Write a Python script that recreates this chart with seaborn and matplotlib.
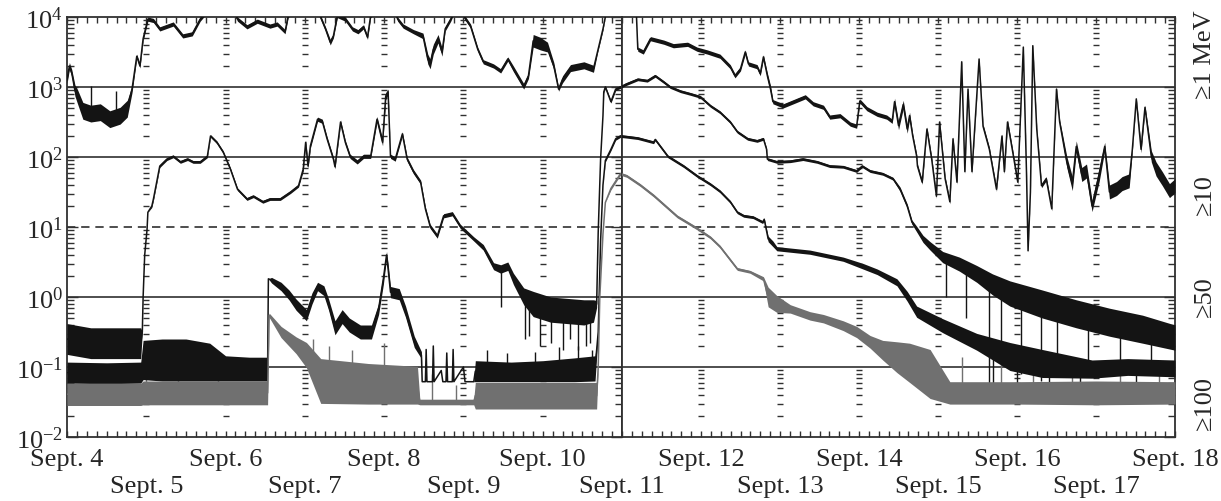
import numpy as np
import matplotlib
matplotlib.use("Agg")
import matplotlib.pyplot as plt
import seaborn as sns
from matplotlib.ticker import LogLocator, MultipleLocator, NullFormatter, FixedLocator

sns.set_theme(style="ticks")
plt.rcParams['font.family'] = ['Liberation Serif', 'DejaVu Serif']
plt.rcParams['mathtext.fontset'] = 'stix'
plt.rcParams['font.size'] = 19

# (day of September, log10 flux, noise half-width in log10)
p1mev = [(4.00, 3.10, .05), (4.03, 3.30, .05), (4.06, 3.20, .05), (4.10, 2.95, .08), (4.13, 2.87, .10),
         (4.20, 2.66, .12), (4.30, 2.62, .12), (4.42, 2.64, .12), (4.54, 2.54, .12), (4.67, 2.59, .12),
         (4.76, 2.69, .12), (4.82, 2.97, .05), (4.88, 3.44, .03), (4.92, 3.30, .03), (4.96, 3.69, .03),
         (5.02, 3.97, .03), (5.09, 3.95, .03), (5.17, 3.83, .03), (5.34, 3.90, .03), (5.46, 3.73, .03),
         (5.58, 3.76, .03), (5.68, 3.97, .03), (5.74, 4.05, .03), (5.85, 4.20, 0), (6.05, 4.20, 0),
         (6.15, 3.97, .03), (6.27, 3.86, .03), (6.40, 3.94, .03), (6.56, 3.87, .03), (6.65, 3.90, .03),
         (6.75, 3.79, .03), (6.79, 4.02, .03), (6.95, 4.20, 0), (7.10, 4.20, 0), (7.19, 4.02, .03),
         (7.26, 3.83, .03), (7.32, 3.64, .04), (7.36, 3.73, .03), (7.41, 4.02, .03), (7.51, 3.97, .03),
         (7.60, 3.83, .03), (7.67, 3.79, .03), (7.74, 3.86, .03), (7.79, 3.71, .03), (7.83, 4.02, .03),
         (7.95, 4.20, 0), (8.10, 4.20, 0), (8.17, 3.97, .03), (8.24, 3.87, .03), (8.37, 3.79, .03),
         (8.49, 3.73, .04), (8.55, 3.40, .07), (8.58, 3.33, .07), (8.62, 3.54, .07), (8.68, 3.69, .06),
         (8.73, 3.50, .06), (8.77, 3.83, .03), (8.84, 3.97, .03), (8.90, 4.10, 0), (8.95, 4.10, 0),
         (9.03, 3.97, .03), (9.09, 3.87, .03), (9.18, 3.54, .03), (9.25, 3.36, .03), (9.38, 3.30, .03),
         (9.47, 3.23, .03), (9.56, 3.40, .03), (9.63, 3.26, .04), (9.76, 3.01, .04), (9.82, 3.16, .04),
         (9.88, 3.66, .09), (9.97, 3.62, .09), (10.06, 3.57, .07), (10.14, 3.30, .05), (10.20, 2.97, .03),
         (10.25, 3.11, .05), (10.35, 3.27, .05), (10.52, 3.31, .05), (10.64, 3.26, .05), (10.69, 3.50, .02),
         (10.76, 3.83, .02), (10.79, 4.00, 0), (10.85, 4.20, 0), (11.10, 4.20, 0), (11.18, 4.10, 0),
         (11.20, 3.54, .03), (11.27, 3.50, .03), (11.36, 3.69, .03), (11.53, 3.64, .03), (11.65, 3.59, .03),
         (11.83, 3.61, .03), (11.95, 3.54, .03), (12.08, 3.50, .03), (12.24, 3.44, .03), (12.37, 3.29, .03),
         (12.43, 3.16, .03), (12.50, 3.26, .03), (12.56, 3.50, .03), (12.60, 3.33, .03), (12.71, 3.29, .03),
         (12.75, 3.19, .03), (12.79, 3.43, .03), (12.84, 3.16, .04), (12.88, 2.97, .05), (12.91, 2.79, .03),
         (13.04, 2.73, .03), (13.17, 2.79, .03), (13.32, 2.86, .03), (13.42, 2.76, .03), (13.55, 2.71, .03),
         (13.63, 2.57, .03), (13.76, 2.59, .03), (13.89, 2.47, .03), (13.97, 2.44, .03), (14.01, 2.80, .03),
         (14.10, 2.69, .03), (14.23, 2.61, .03), (14.35, 2.57, .03), (14.42, 2.51, .03), (14.45, 2.79, .05),
         (14.50, 2.45, .06), (14.56, 2.75, .06), (14.61, 2.40, .06), (14.64, 2.59, .05), (14.68, 2.30, .03),
         (14.73, 2.01, .03), (14.74, 1.87, .03), (14.80, 1.64, .03), (14.86, 2.40, .03), (14.92, 1.97, .03),
         (14.98, 1.44, .03), (15.02, 2.50, .03), (15.09, 1.69, .03), (15.15, 1.36, .03), (15.19, 2.26, .03),
         (15.24, 1.64, .03), (15.30, 3.36, .02), (15.34, 1.79, .03), (15.38, 2.97, .02), (15.43, 1.79, .03),
         (15.52, 3.40, .02), (15.57, 2.44, .03), (15.65, 2.11, .03), (15.74, 1.54, .03), (15.81, 2.30, .03),
         (15.84, 1.79, .03), (15.88, 2.50, .03), (15.94, 2.11, .03), (16.01, 1.64, .03), (16.08, 3.57, .02),
         (16.12, 1.79, .03), (16.14, 0.66, .02), (16.17, 1.50, .03), (16.20, 3.59, .02), (16.25, 2.40, .03),
         (16.31, 1.59, .03), (16.37, 1.69, .03), (16.44, 1.26, .03), (16.50, 2.97, .02), (16.54, 2.50, .03),
         (16.63, 1.93, .08), (16.70, 1.62, .10), (16.75, 2.15, .08), (16.82, 1.75, .10), (16.88, 1.80, .10),
         (16.95, 1.30, .08), (17.04, 1.75, .10), (17.11, 2.15, .06), (17.17, 1.50, .10), (17.26, 1.55, .10),
         (17.33, 1.62, .10), (17.42, 1.66, .10), (17.46, 2.11, .03), (17.51, 2.83, .02), (17.57, 2.11, .05),
         (17.62, 2.71, .03), (17.70, 2.01, .08), (17.76, 1.83, .10), (17.84, 1.69, .10), (17.93, 1.52, .10),
         (18.00, 1.59, .10)]

p10mev = [(4.00, -0.60, .22), (4.30, -0.66, .22), (4.60, -0.66, .22), (4.93, -0.66, .22), (4.95, -0.50, 0),
          (4.96, 0.00, 0), (4.98, 0.60, 0), (5.01, 0.97, 0), (5.02, 1.21, 0), (5.07, 1.30, .02),
          (5.09, 1.40, .02), (5.14, 1.69, .02), (5.17, 1.87, .02), (5.26, 1.97, .02), (5.34, 2.01, .02),
          (5.43, 1.93, .02), (5.52, 1.97, .02), (5.59, 1.93, .02), (5.68, 1.93, .02), (5.77, 2.01, .02),
          (5.81, 2.30, .02), (5.89, 2.21, .02), (5.97, 2.07, .02), (6.06, 1.83, .02), (6.15, 1.54, .02),
          (6.27, 1.40, .02), (6.35, 1.44, .02), (6.47, 1.36, .02), (6.56, 1.40, .02), (6.69, 1.40, .02),
          (6.82, 1.50, .02), (6.92, 1.59, .02), (6.98, 1.83, .03), (7.01, 2.21, .03), (7.04, 1.87, .03),
          (7.07, 2.16, .03), (7.16, 2.54, .03), (7.22, 2.51, .03), (7.28, 2.26, .03), (7.36, 1.97, .03),
          (7.38, 1.86, .03), (7.45, 2.50, .03), (7.51, 2.21, .03), (7.57, 2.01, .03), (7.66, 1.93, .03),
          (7.74, 2.01, .03), (7.83, 2.01, .03), (7.91, 2.54, .04), (7.98, 2.21, .05), (8.02, 2.87, .05),
          (8.05, 2.93, .04), (8.08, 2.01, .03), (8.14, 1.97, .03), (8.23, 2.33, .03), (8.29, 1.97, .03),
          (8.37, 1.79, .03), (8.46, 1.64, .03), (8.52, 1.26, .03), (8.58, 1.01, .03), (8.67, 0.87, .03),
          (8.75, 1.16, .03), (8.86, 1.19, .03), (8.96, 1.01, .03), (9.13, 0.83, .03), (9.25, 0.71, .04),
          (9.38, 0.44, .05), (9.47, 0.40, .06), (9.56, 0.44, .06), (9.63, 0.26, .08), (9.76, 0.01, .12),
          (9.88, -0.10, .18), (10.10, -0.18, .18), (10.31, -0.20, .18), (10.52, -0.22, .18), (10.64, -0.20, .16),
          (10.68, -0.10, .05), (10.70, 0.93, 0), (10.73, 1.97, 0), (10.76, 2.59, 0), (10.77, 2.93, .02),
          (10.79, 3.00, .02), (10.86, 2.79, .02), (10.92, 2.97, .02), (10.98, 3.00, .02), (11.05, 3.04, .02),
          (11.20, 3.11, .02), (11.32, 3.09, .02), (11.42, 3.16, .02), (11.53, 3.07, .02), (11.61, 3.00, .02),
          (11.74, 2.94, .02), (11.87, 2.90, .02), (11.99, 2.86, .02), (12.12, 2.73, .02), (12.24, 2.64, .02),
          (12.37, 2.50, .02), (12.46, 2.36, .02), (12.59, 2.26, .02), (12.71, 2.23, .02), (12.79, 2.26, .02),
          (12.83, 2.11, .02), (12.84, 1.97, .02), (12.96, 1.93, .02), (13.13, 1.94, .02), (13.29, 1.97, .02),
          (13.47, 1.93, .02), (13.63, 1.87, .02), (13.80, 1.86, .02), (13.97, 1.80, .02), (14.04, 1.87, .02),
          (14.14, 1.80, .02), (14.30, 1.76, .02), (14.43, 1.69, .02), (14.52, 1.54, .03), (14.61, 1.30, .03),
          (14.67, 1.07, .03), (14.73, 0.97, .04), (14.81, 0.83, .05), (14.90, 0.73, .06), (15.06, 0.57, .08),
          (15.27, 0.47, .10), (15.49, 0.33, .12), (15.69, 0.18, .15), (15.91, 0.05, .18), (16.32, -0.10, .2),
          (16.75, -0.24, .2), (17.17, -0.36, .2), (17.59, -0.46, .2), (18.00, -0.58, .18)]

p50mev = [(4.00, -1.08, .15), (4.50, -1.09, .15), (4.93, -1.08, .15), (4.96, -0.90, .28), (5.20, -0.90, .3),
          (5.50, -0.90, .3), (5.80, -0.93, .27), (6.00, -1.02, .18), (6.30, -1.03, .17), (6.53, -1.03, .17),
          (6.54, 0.26, 0), (6.58, 0.24, .04), (6.70, 0.15, .06), (6.80, 0.03, .07), (6.89, -0.11, .08),
          (7.02, -0.26, .08), (7.09, -0.02, .08), (7.16, 0.15, .06), (7.24, 0.09, .07), (7.30, -0.11, .08),
          (7.38, -0.44, .10), (7.47, -0.28, .10), (7.56, -0.40, .10), (7.70, -0.50, .10), (7.84, -0.50, .10),
          (7.93, -0.17, .08), (7.99, 0.26, .08), (8.03, 0.60, .05), (8.05, 0.40, .08), (8.08, 0.07, .08),
          (8.19, 0.04, .08), (8.27, -0.21, .08), (8.38, -0.64, .08), (8.47, -0.83, .05), (8.48, -1.21, 0),
          (8.52, -1.21, 0), (8.53, -0.75, 0), (8.54, -1.21, 0), (8.61, -1.21, 0), (8.62, -0.70, 0),
          (8.63, -1.21, 0), (8.72, -1.05, 0), (8.74, -1.21, 0), (8.78, -1.21, 0), (8.79, -0.80, 0),
          (8.80, -1.21, 0), (8.86, -1.21, 0), (8.87, -0.75, 0), (8.88, -1.21, 0), (9.00, -1.00, 0),
          (9.02, -1.21, 0), (9.13, -1.21, 0), (9.15, -1.06, .15), (9.60, -1.07, .14), (10.00, -1.06, .15),
          (10.40, -1.04, .17), (10.66, -1.02, .18), (10.70, -0.50, 0), (10.73, 0.80, 0), (10.76, 1.60, 0),
          (10.79, 1.95, .02), (10.86, 2.11, .02), (10.92, 2.26, .02), (10.98, 2.30, .02), (11.06, 2.29, .02),
          (11.20, 2.27, .02), (11.40, 2.21, .02), (11.42, 2.25, .02), (11.58, 2.01, .02), (11.78, 1.87, .02),
          (11.95, 1.73, .02), (12.12, 1.61, .02), (12.24, 1.51, .02), (12.37, 1.36, .02), (12.46, 1.21, .02),
          (12.54, 1.16, .02), (12.66, 1.14, .02), (12.78, 1.07, .02), (12.80, 1.11, .02), (12.85, 0.83, .04),
          (12.91, 0.76, .04), (12.96, 0.69, .03), (13.38, 0.64, .03), (13.80, 0.54, .03), (14.05, 0.44, .04),
          (14.23, 0.36, .04), (14.48, 0.21, .05), (14.61, 0.01, .07), (14.73, -0.21, .08), (15.06, -0.41, .10),
          (15.49, -0.64, .12), (15.91, -0.85, .2), (16.32, -0.95, .2), (16.95, -1.03, .13),
          (17.40, -1.00, .12), (18.00, -1.02, .12)]

p100mev = [(4.00, -1.39, .16), (4.93, -1.39, .16), (4.96, -1.37, .17), (6.53, -1.37, .17), (6.55, -0.26, .03),
           (6.70, -0.50, .08), (6.89, -0.69, .12), (7.02, -0.83, .18), (7.20, -1.20, .32), (7.80, -1.24, .29),
           (8.42, -1.26, .27), (8.45, -1.50, .04), (9.13, -1.50, .04), (9.15, -1.41, .19), (10.68, -1.41, .19),
           (10.70, -1.00, 0), (10.72, 0.00, 0), (10.76, 0.90, 0), (10.79, 1.35, 0), (10.86, 1.55, .02),
           (10.98, 1.76, .02), (11.06, 1.73, .02), (11.23, 1.60, .02), (11.40, 1.45, .02), (11.55, 1.30, .02),
           (11.70, 1.15, .02), (11.95, 0.98, .02), (12.12, 0.85, .02), (12.24, 0.72, .02), (12.46, 0.40, .02),
           (12.62, 0.36, .02), (12.79, 0.26, .03), (12.85, 0.00, .14), (12.96, -0.10, .12), (13.13, -0.17, .06),
           (13.38, -0.27, .06), (13.55, -0.31, .06), (13.80, -0.41, .07), (13.97, -0.50, .08), (14.14, -0.64, .09),
           (14.30, -0.76, .14), (14.48, -0.86, .22), (14.64, -0.94, .28), (14.90, -1.10, .35), (15.15, -1.37, .16),
           (16.00, -1.37, .16), (17.00, -1.37, .17), (18.00, -1.37, .16)]

# isolated noise spikes (day, log10 low, log10 high)
spikes_black = [(4.30, 2.60, 3.01), (4.62, 2.60, 2.95),
                (9.47, -0.14, 0.40), (9.78, -0.60, -0.05), (9.83, -0.55, -0.10), (9.97, -0.70, -0.15),
                (10.10, -0.65, -0.20), (10.25, -0.75, -0.20), (10.35, -0.60, -0.20), (10.45, -0.75, -0.20),
                (10.55, -0.70, -0.20), (10.60, -0.65, -0.20),
                (9.30, -1.00, -0.75), (9.55, -1.00, -0.80), (9.90, -1.00, -0.78), (10.20, -1.00, -0.72),
                (10.45, -1.00, -0.70), (10.62, -1.00, -0.75),
                (15.10, 0.00, 0.50), (15.36, -0.30, 0.35), (15.65, -1.30, 0.10), (15.80, -0.90, 0.00),
                (16.05, -1.10, -0.10), (16.30, -1.20, -0.20), (16.50, -1.00, -0.20), (16.90, -1.10, -0.30),
                (17.30, -0.90, -0.40), (17.70, -1.00, -0.50),
                (15.70, -1.50, -0.70), (16.00, -1.45, -0.90), (16.40, -1.40, -1.00), (16.80, -1.35, -1.00),
                (17.50, -1.30, -1.00)]
spikes_grey = [(4.30, -1.30, -1.00), (4.60, -1.30, -1.05), (5.00, -1.30, -0.95), (5.40, -1.30, -1.05),
               (5.90, -1.30, -1.05), (7.10, -1.00, -0.60), (7.30, -1.00, -0.70), (7.60, -1.00, -0.75),
               (8.00, -1.00, -0.65), (8.60, -1.50, -1.10), (8.90, -1.50, -1.25), (15.30, -1.30, -0.85),
               (15.80, -1.30, -0.95), (16.20, -1.30, -0.90), (16.70, -1.30, -1.00), (17.30, -1.30, -1.00),
               (17.80, -1.30, -0.95)]

day_labels = {d: f"Sept. {d}" if d % 2 == 0 else f"\nSept. {d}" for d in range(4, 19)}
channel_labels = ["≥1 MeV", "≥10", "≥50", "≥100"]
channel_label_y = [55, 195, 297, 403]

BLACK = "#141414"
GREY = "#707070"
FRAME = "#303030"

series = [(p1mev, BLACK), (p10mev, BLACK), (p50mev, BLACK), (p100mev, GREY)]
spike_sets = [(spikes_black, BLACK), (spikes_grey, GREY)]

W, H = 1221, 502
fig = plt.figure(figsize=(W / 100, H / 100), dpi=100)
x0, x_mid, x1 = 67, 622, 1175
y_top, y_bot = 18, 438
axL = fig.add_axes([x0 / W, 1 - y_bot / H, (x_mid - x0) / W, (y_bot - y_top) / H])
axR = fig.add_axes([x_mid / W, 1 - y_bot / H, (x1 - x_mid) / W, (y_bot - y_top) / H], sharey=axL)

minor_vals = [m * 10.0 ** k for k in range(-2, 4) for m in range(2, 10)]


def draw_panel(ax, start, end):
    ax.set_yscale("log")
    ax.set_ylim(1e-2, 1e4)
    ax.set_xlim(start, end)

    # day rulers made of log minor marks
    for d in range(start + 1, end):
        ax.scatter([d] * len(minor_vals), minor_vals, marker="_", s=22, color=FRAME,
                   linewidths=1.0, zorder=1)

    for lvl in [1e3, 1e2, 1e0, 1e-1]:
        ax.axhline(lvl, color=FRAME, lw=1.2, zorder=2)
    ax.axhline(1e1, color=FRAME, lw=1.2, dashes=(5, 3.5), zorder=2)

    for sp_list, col in spike_sets:
        t, lo, hi = (np.array(v, dtype=float) for v in zip(*sp_list))
        ax.vlines(t, 10 ** lo, 10 ** hi, color=col, lw=1.0, zorder=3)

    for pts, col in series:
        t, lg, sp = (np.array(v, dtype=float) for v in zip(*pts))
        ax.fill_between(t, 10 ** (lg - sp), 10 ** (lg + sp), color=col, lw=0, zorder=3)
        sns.lineplot(x=t, y=10 ** lg, ax=ax, color=col, lw=1.1,
                     estimator=None, sort=False, legend=False, zorder=4)

    ax.xaxis.set_major_locator(FixedLocator(list(range(start, end + 1))))
    ax.xaxis.set_minor_locator(MultipleLocator(0.125))
    ax.yaxis.set_major_locator(LogLocator(base=10, numticks=10))
    ax.yaxis.set_minor_locator(LogLocator(base=10, subs=range(2, 10), numticks=20))
    ax.yaxis.set_minor_formatter(NullFormatter())
    ax.tick_params(axis="x", which="both", direction="in", top=True, bottom=True,
                   length=4, width=1, color=FRAME, pad=8, labelsize=19)
    ax.tick_params(axis="y", which="major", direction="in", length=8, width=1, color=FRAME,
                   pad=3, labelsize=19)
    ax.tick_params(axis="y", which="minor", direction="in", length=5, width=1, color=FRAME)
    for sp in ax.spines.values():
        sp.set_color(FRAME)
        sp.set_linewidth(1.3)
    ax.set_xlabel("")
    ax.set_ylabel("")


draw_panel(axL, 4, 11)
draw_panel(axR, 11, 18)

axL.set_xticklabels([day_labels[d] for d in range(4, 12)], va="top", linespacing=1.3)
axR.set_xticklabels([""] + [day_labels[d] for d in range(12, 19)], va="top", linespacing=1.3)
axL.tick_params(axis="y", which="both", left=True, right=True)
axR.tick_params(axis="y", which="both", left=False, right=True, labelleft=False)

for lab, yp in zip(channel_labels, channel_label_y):
    fig.text(1205 / W, 1 - yp / H, lab, rotation=90, ha="center", va="center", fontsize=19)

fig.savefig("out.png", dpi=100)
